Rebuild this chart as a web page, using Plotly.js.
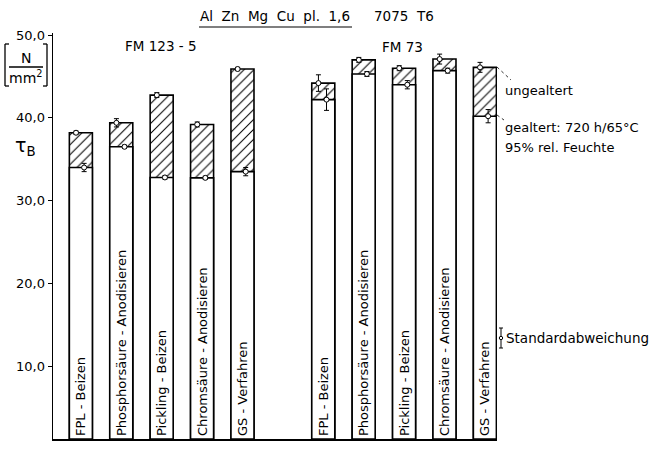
<!DOCTYPE html>
<html>
<head>
<meta charset="utf-8">
<script src="https://cdn.plot.ly/plotly-3.0.1.min.js"></script>
<style>html,body{margin:0;padding:0;background:#fff;}#chart{width:655px;height:450px;}</style>
</head>
<body>
<div id="chart"></div>
<script>
// ---- data ----
const categories = ["FPL - Beizen", "Phosphorsäure - Anodisieren", "Pickling - Beizen", "Chromsäure - Anodisieren", "GS - Verfahren"];
const groupNames = ["FM 123 - 5", "FM 73"];
const unagedFM123 = [38.2, 39.4, 42.75, 39.2, 45.9];
const agedFM123 = [34.0, 36.5, 32.8, 32.75, 33.5];
const unagedErrFM123 = [0.2, 0.5, 0.3, 0.3, 0.2];
const agedErrFM123 = [0.5, 0.2, 0.2, 0.2, 0.5];
const unagedFM73 = [44.2, 47.0, 46.0, 47.1, 46.1];
const agedFM73 = [42.2, 45.3, 44.0, 45.7, 40.2];
const unagedErrFM73 = [1.0, 0.3, 0.3, 0.6, 0.6];
const agedErrFM73 = [1.3, 0.3, 0.5, 0.3, 0.8];
const yTickVals = [10, 20, 30, 40, 50];
const yTickLabels = ["10,0", "20,0", "30,0", "40,0", "50,0"];

// ---- layout helpers ----
const Y_MIN = 1.2, Y_MAX = 50.25;
const M = {l: 53, r: 158, t: 33, b: 11};
const W = 655, H = 450;
const PW = W - M.l - M.r, PH = H - M.t - M.b;
const px = x => (x - M.l) / PW;
const py = y => (H - M.b - y) / PH;
const FONT = "DejaVu Sans";

const groupsUnaged = [unagedFM123, unagedFM73];
const groupsAged = [agedFM123, agedFM73];
const groupsUErr = [unagedErrFM123, unagedErrFM73];
const groupsAErr = [agedErrFM123, agedErrFM73];

let xs = [], unaged = [], aged = [], uErr = [], aErr = [], labels = [];
groupsUnaged.forEach((g, gi) => {
  g.forEach((v, i) => {
    xs.push(gi * (categories.length + 1) + i);
    unaged.push(v);
    aged.push(groupsAged[gi][i]);
    uErr.push(groupsUErr[gi][i]);
    aErr.push(groupsAErr[gi][i]);
    labels.push(categories[i]);
  });
});

const barW = 0.57;
const traces = [
  {
    type: 'bar', x: xs, y: unaged.map(v => v - Y_MIN), base: Y_MIN, width: barW,
    marker: {color: 'white', line: {color: 'black', width: 1.6},
             pattern: {shape: '/', fgcolor: 'black', bgcolor: 'white', size: 7, solidity: 0.15}},
    hoverinfo: 'skip', showlegend: false
  },
  {
    type: 'bar', x: xs, y: aged.map(v => v - Y_MIN), base: Y_MIN, width: barW,
    marker: {color: 'white', line: {color: 'black', width: 1.6}},
    text: labels, textposition: 'inside', insidetextanchor: 'start', textangle: -90,
    constraintext: 'none',
    textfont: {family: FONT, size: 13, color: 'black'},
    hoverinfo: 'skip', showlegend: false
  },
  {
    type: 'scatter', mode: 'markers', x: xs.map(x => x - 0.12), y: unaged,
    error_y: {type: 'data', array: uErr, visible: true, color: 'black', thickness: 1, width: 2.5},
    marker: {symbol: 'circle', size: 5, color: 'white', line: {color: 'black', width: 1}},
    hoverinfo: 'skip', showlegend: false
  },
  {
    type: 'scatter', mode: 'markers', x: xs.map(x => x + 0.08), y: aged,
    error_y: {type: 'data', array: aErr, visible: true, color: 'black', thickness: 1, width: 2.5},
    marker: {symbol: 'circle', size: 5, color: 'white', line: {color: 'black', width: 1}},
    hoverinfo: 'skip', showlegend: false
  }
];

const txt = (text, x, y, size, opts) => Object.assign({
  text: text, xref: 'paper', yref: 'paper', x: px(x), y: py(y),
  xanchor: 'center', yanchor: 'middle', showarrow: false,
  font: {family: FONT, size: size, color: 'black'}
}, opts || {});

const annotations = [
  txt("Al  Zn  Mg  Cu  pl.  1,6", 275, 16, 13.5),
  txt("7075  T6", 404, 16, 13.5),
  txt(groupNames[0], 161, 46, 13.5),
  txt(groupNames[1], 402, 47, 13.5),
  txt("N", 26, 58, 14),
  txt("mm<sup>2</sup>", 26, 77, 14),
  txt("τ<sub>B</sub>", 25, 146, 19),
  txt("ungealtert", 503, 90, 13, {xanchor: 'left'}),
  txt("gealtert: 720 h/65°C", 503, 127, 13, {xanchor: 'left'}),
  txt("95% rel. Feuchte", 503, 147, 13, {xanchor: 'left'}),
  txt("Standardabweichung", 504, 338, 13.5, {xanchor: 'left'})
];

const pline = (x0, y0, x1, y1, w, dash) => ({
  type: 'line', xref: 'paper', yref: 'paper', x0: px(x0), y0: py(y0), x1: px(x1), y1: py(y1),
  line: {color: 'black', width: w || 1, dash: dash || 'solid'}
});

const shapes = [
  // title underline
  pline(199, 27, 352, 27, 1.2),
  // unit bracket fraction
  pline(9, 67, 43, 67, 1.3),
  pline(5, 44, 5, 86, 1.3), pline(5, 44, 9, 44, 1.3), pline(5, 86, 9, 86, 1.3),
  pline(47, 44, 47, 86, 1.3), pline(43, 44, 47, 44, 1.3), pline(43, 86, 47, 86, 1.3),
  // leader lines
  pline(497, 67, 511, 80, 0.8, 'dot'),
  pline(497, 115, 504, 120, 0.8, 'dot'),
  // std deviation glyph
  pline(501, 328, 501, 348, 1),
  pline(499, 328, 503, 328, 1),
  pline(499, 348, 503, 348, 1),
  {type: 'circle', xref: 'paper', yref: 'paper', x0: px(499.3), y0: py(336.3), x1: px(502.7), y1: py(339.7),
   line: {color: 'black', width: 1}, fillcolor: 'white'}
];

const layout = {
  width: W, height: H, margin: M,
  paper_bgcolor: 'white', plot_bgcolor: 'white',
  barmode: 'overlay', separators: ',.',
  xaxis: {range: [-0.69, 10.3], showgrid: false, zeroline: false, showticklabels: false,
          ticks: '', showline: true, linecolor: 'black', linewidth: 1.6, fixedrange: true},
  yaxis: {range: [Y_MIN, Y_MAX], showgrid: false, zeroline: false, tickvals: yTickVals, ticktext: yTickLabels,
          ticks: 'outside', ticklen: 4, tickcolor: 'black', tickwidth: 1,
          showline: true, linecolor: 'black', linewidth: 1.4,
          tickfont: {family: FONT, size: 13, color: 'black'}, fixedrange: true},
  annotations: annotations, shapes: shapes, hovermode: false
};

Plotly.newPlot('chart', traces, layout, {displayModeBar: false, staticPlot: true});
</script>
</body>
</html>
